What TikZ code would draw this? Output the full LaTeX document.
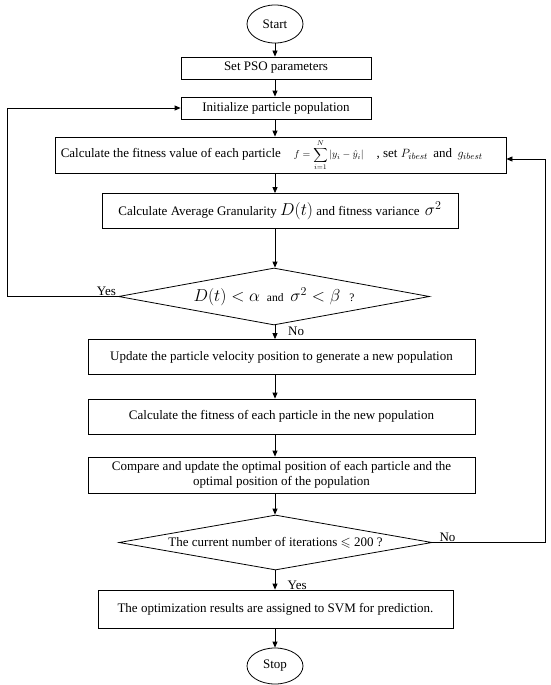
\documentclass[tikz,border=0pt]{standalone}
\usepackage{amsmath,amssymb}
\usepackage{fontspec}
\setmainfont{Liberation Serif}
\usetikzlibrary{shapes.geometric,arrows.meta,calc}
\tikzset{
  box/.style={draw, line width=0.8pt, rectangle, inner sep=0pt, align=center, font=\fontsize{13}{15.5}\selectfont},
  oval/.style={draw, line width=0.8pt, ellipse, inner sep=0pt, font=\fontsize{13}{15.5}\selectfont},
  dia/.style={draw, line width=0.8pt, diamond, inner sep=0pt, aspect=1},
  txt/.style={inner sep=0pt, font=\fontsize{13}{15.5}\selectfont},
  lbl/.style={inner sep=1pt, font=\fontsize{13}{15.5}\selectfont},
  arr/.style={line width=0.8pt, -{Triangle[length=6pt,width=5pt]}}
}
\newcommand{\bgmath}[1]{{\fontsize{16.5}{19}\selectfont $#1$}}
\begin{document}
\begin{tikzpicture}[x=1pt,y=-1pt]
\useasboundingbox[fill=white] (0,0) rectangle (550,685);
\node[oval, minimum width=56pt, minimum height=38pt] (start) at (275,24) {Start};
\node[box, minimum width=190pt, minimum height=22pt] (setpso) at (276,68) {Set PSO parameters};
\node[box, minimum width=190pt, minimum height=22pt] (init) at (276,108) {Initialize particle population};
\node[box, minimum width=451pt, minimum height=36pt] (fit) at (280.5,155) {};
\node[txt, anchor=west] (fittxt) at ([xshift=6pt]fit.west) {Calculate the fitness value of each particle\quad {\fontsize{10}{11}\selectfont $\displaystyle f=\sum_{i=1}^{N}|y_i-\hat{y}_i|$}\quad, set $P_{ibest}$\, and\, $g_{ibest}$};
\node[box, minimum width=356pt, minimum height=35pt] (avg) at (280,211) {Calculate Average Granularity \bgmath{D(t)} and fitness variance\, \bgmath{\sigma^2}};
\node[dia, minimum width=311pt, minimum height=57pt] (d1) at (274,296.5) {};
\node[txt] (d1txt) at (d1) {\bgmath{D(t)<\alpha}\; {\fontsize{11.5}{13}\selectfont and}\; \bgmath{\sigma^2<\beta}\;\, {\fontsize{11.5}{13}\selectfont ?}};
\node[box, minimum width=387pt, minimum height=35pt] (update) at (281.5,357) {Update the particle velocity position to generate a new population};
\node[box, minimum width=387pt, minimum height=35pt] (calc) at (281.5,416.5) {Calculate the fitness of each particle in the new population};
\node[box, minimum width=387pt, minimum height=36pt] (compare) at (281.5,475) {Compare and update the optimal position of each particle and the\\optimal position of the population};
\node[dia, minimum width=313pt, minimum height=55pt] (d2) at (275.5,542.5) {};
\node[txt] (d2txt) at (d2) {The current number of iterations $\leqslant$ 200 ?};
\node[box, minimum width=355pt, minimum height=38pt] (svm) at (275.5,609) {The optimization results are assigned to SVM for prediction.};
\node[oval, minimum width=56pt, minimum height=36pt] (stop) at (275,666) {Stop};

\coordinate (lft) at (7,296.5);
\coordinate (rgt) at (545,542.5);

\draw[arr] (start.south) -- (start.south |- setpso.north);
\draw[arr] (setpso.south -| start) -- (init.north -| start);
\draw[arr] (init.south -| start) -- (fit.north -| start);
\draw[arr] (fit.south -| start) -- (avg.north -| start);
\draw[arr] (avg.south -| start) -- (d1.north -| start);
\draw[arr] (d1.south -| start) -- (update.north -| start);
\draw[arr] (update.south -| start) -- (calc.north -| start);
\draw[arr] (calc.south -| start) -- (compare.north -| start);
\draw[arr] (compare.south -| start) -- (d2.north -| start);
\draw[arr] (d2.south -| start) -- (svm.north -| start);
\draw[arr] (svm.south -| start) -- (stop.north);
\draw[arr] (d1.west) -- (lft) |- (init.west);
\draw[arr] (d2.east) -- (rgt) |- ([yshift=-4pt]fit.east);

\node[lbl, anchor=south east] at ([xshift=-1pt]d1.west) {Yes};
\node[lbl, anchor=west] at ([xshift=13pt,yshift=-6pt]d1.south) {No};
\node[lbl, anchor=west] at ([xshift=11pt,yshift=-15pt]d2.south) {Yes};
\node[lbl, anchor=south west] at ([xshift=6pt]d2.east) {No};
\end{tikzpicture}
\end{document}
